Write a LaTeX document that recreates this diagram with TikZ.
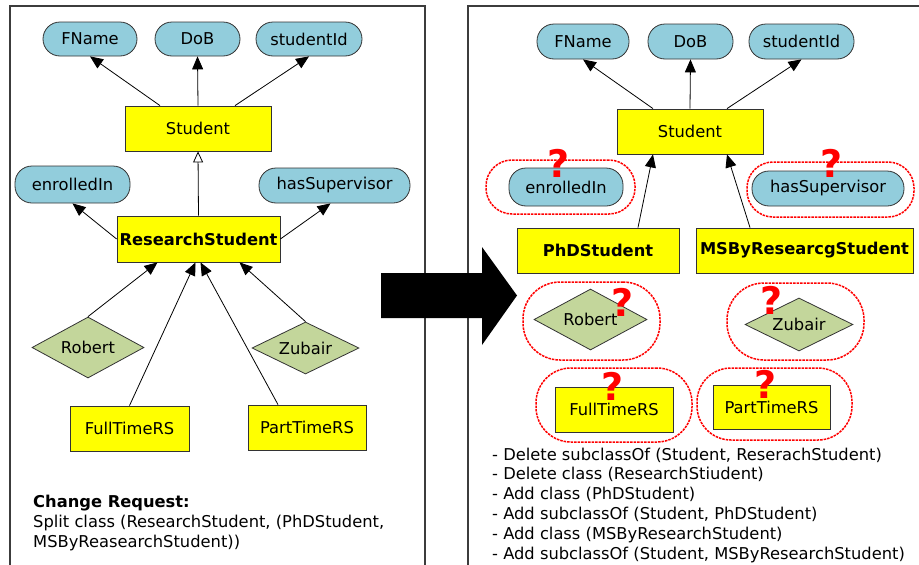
\documentclass[tikz,border=0pt]{standalone}
\usepackage{fontspec}
\setmainfont{DejaVu Sans}
\usetikzlibrary{shapes.geometric,arrows.meta}
\definecolor{attrblue}{RGB}{146,205,220}
\definecolor{indgreen}{RGB}{195,214,155}
\definecolor{clsyellow}{RGB}{255,255,0}
\definecolor{framegray}{RGB}{60,60,60}
\definecolor{qred}{RGB}{255,0,0}
\tikzset{
  lbl/.style={font=\fontsize{16.3}{19.8}\selectfont},
  attr/.style={lbl, draw=black!80, fill=attrblue, rectangle, rounded corners=17pt, inner sep=0pt, line width=0.8pt, minimum height=34pt},
  cls/.style={lbl, draw=black!80, fill=clsyellow, rectangle, inner sep=0pt, line width=0.8pt, minimum height=45pt},
  ind/.style={lbl, draw=black!80, fill=indgreen, diamond, aspect=2, inner sep=0pt, line width=0.8pt},
  oval/.style={draw=qred, line width=1.5pt, dash pattern=on 2.5pt off 1pt, rectangle, inner sep=0pt},
  qm/.style={text=qred, font=\fontsize{38}{38}\selectfont\bfseries, inner sep=0pt},
  arr/.style={line width=0.8pt, -{Triangle[length=13pt,width=11pt]}},
  gen/.style={line width=0.8pt, -{Triangle[open,length=11pt,width=10pt,fill=white]}},
  txt/.style={lbl, anchor=base west, inner sep=0pt},
  frame/.style={draw=framegray, line width=1.2pt}
}
\begin{document}
\begin{tikzpicture}[x=1pt,y=-1pt]
\useasboundingbox (0,0) rectangle (919,565);
% frames
\draw[frame] (10,565) -- (10,6) -- (425,6) -- (425,565);
\draw[frame] (468,565) -- (468,6) -- (919,6);

% ---------- left panel ----------
\node[attr, minimum width=94pt] (fnA) at (90,39) {FName};
\node[attr, minimum width=85pt] (dobA) at (197.5,39) {DoB};
\node[attr, minimum width=106pt] (sidA) at (309,39) {studentId};
\node[cls, minimum width=146pt] (stuA) at (198,128.5) {Student};
\node[attr, minimum width=115pt, minimum height=37pt] (enA) at (72.5,184.5) {enrolledIn};
\node[attr, minimum width=151pt, minimum height=35pt] (hsA) at (334.5,185.5) {hasSupervisor};
\node[cls, minimum width=163pt, minimum height=46pt, font=\fontsize{16.3}{19.8}\selectfont\bfseries] (rsA) at (198.5,239) {ResearchStudent};
\node[ind, minimum width=112pt, minimum height=61pt] (robA) at (88,347.5) {Robert};
\node[ind, minimum width=107pt, minimum height=52pt] (zubA) at (305.5,348) {Zubair};
\node[cls, minimum width=119pt] (ftA) at (129.5,428.5) {FullTimeRS};
\node[cls, minimum width=118pt] (ptA) at (307,427.5) {PartTimeRS};

\draw[arr] ([xshift=-38pt]stuA.north) -- (fnA.south);
\draw[arr] (stuA.north) -- (dobA.south);
\draw[arr] ([xshift=37pt]stuA.north) -- (sidA.south);
\draw[gen] (rsA.north) -- (stuA.south);
\draw[arr] (rsA.west) -- (enA.south);
\draw[arr] (rsA.east) -- ([xshift=-4pt]hsA.south);
\draw[arr] (robA.north) -- ([xshift=-41pt]rsA.south);
\draw[arr] (ftA.north) -- ([xshift=-3pt]rsA.south);
\draw[arr] ([xshift=-29pt]ptA.north) -- ([xshift=2pt]rsA.south);
\draw[arr] (zubA.north) -- ([xshift=41pt]rsA.south);

\node[txt] (cr1) at (33,507) {\bfseries Change Request:};
\node[txt] (cr2) at (33,527) {Split class (ResearchStudent, (PhDStudent,};
\node[txt] (cr3) at (33,547) {MSByReasearchStudent))};

% ---------- big arrow ----------
\fill[black] (381,273) -- (482,273) -- (482,247) -- (517,295.5) -- (482,345) -- (482,318) -- (381,318) -- cycle;

% ---------- right panel ----------
\node[attr, minimum width=92pt, minimum height=35pt] (fnB) at (583,41.5) {FName};
\node[attr, minimum width=85pt, minimum height=35pt] (dobB) at (690.5,41.5) {DoB};
\node[attr, minimum width=105pt, minimum height=35pt] (sidB) at (801.5,41.5) {studentId};
\node[cls, minimum width=146pt] (stuB) at (690,131.5) {Student};
\node[attr, minimum width=114pt, minimum height=38pt] (enB) at (566,187) {enrolledIn};
\node[attr, minimum width=152pt, minimum height=35pt] (hsB) at (828,188.5) {hasSupervisor};
\node[cls, minimum width=162pt, font=\fontsize{16.3}{19.8}\selectfont\bfseries] (phdB) at (598,250.5) {PhDStudent};
\node[cls, minimum width=217pt, font=\fontsize{16.3}{19.8}\selectfont\bfseries] (msB) at (804.5,250.5) {MSByResearcgStudent};
\node[ind, minimum width=113pt, minimum height=61pt] (robB) at (590.5,319.5) {Robert};
\node[ind, minimum width=108pt, minimum height=53pt] (zubB) at (799,324.5) {Zubair};
\node[cls, minimum width=118pt] (ftB) at (614,409.5) {FullTimeRS};
\node[cls, minimum width=117pt, minimum height=44pt] (ptB) at (771.5,407) {PartTimeRS};

\draw[arr] ([xshift=-37pt]stuB.north) -- (fnB.south);
\draw[arr] (stuB.north) -- (dobB.south);
\draw[arr] ([xshift=37pt]stuB.north) -- (sidB.south);
\draw[arr] ([xshift=40pt]phdB.north) -- ([xshift=-37pt]stuB.south);
\draw[arr] ([xshift=-54.5pt]msB.north) -- ([xshift=37pt]stuB.south);

% red dashed ovals
\node[oval, minimum width=149pt, minimum height=54pt, rounded corners=26pt] (ovEn) at (560.5,187) {};
\node[oval, minimum width=167pt, minimum height=55pt, rounded corners=26pt] (ovHs) at (830.5,189.5) {};
\node[oval, minimum width=137pt, minimum height=78pt, rounded corners=37pt] (ovRob) at (591.5,321) {};
\node[oval, minimum width=137pt, minimum height=77pt, rounded corners=37pt] (ovZub) at (795.5,321.5) {};
\node[oval, minimum width=156pt, minimum height=74pt, rounded corners=35pt] (ovFt) at (614,405) {};
\node[oval, minimum width=155pt, minimum height=72pt, rounded corners=34pt] (ovPt) at (774.5,404) {};

% question marks
\node[qm] (q1) at (559,163) {?};
\node[qm] (q2) at (832,163) {?};
\node[qm] (q3) at (623,302) {?};
\node[qm] (q4) at (772,300) {?};
\node[qm] (q5) at (613,386) {?};
\node[qm] (q6) at (766,384) {?};

% change list
\node[txt] (l1) at (492,460) {- Delete subclassOf (Student, ReserachStudent)};
\node[txt] (l2) at (492,479.8) {- Delete class (ResearchStiudent)};
\node[txt] (l3) at (492,499.6) {- Add class (PhDStudent)};
\node[txt] (l4) at (492,519.4) {- Add subclassOf (Student, PhDStudent)};
\node[txt] (l5) at (492,539.2) {- Add class (MSByResearchStudent)};
\node[txt] (l6) at (492,559) {- Add subclassOf (Student, MSByResearchStudent)};
\end{tikzpicture}
\end{document}
